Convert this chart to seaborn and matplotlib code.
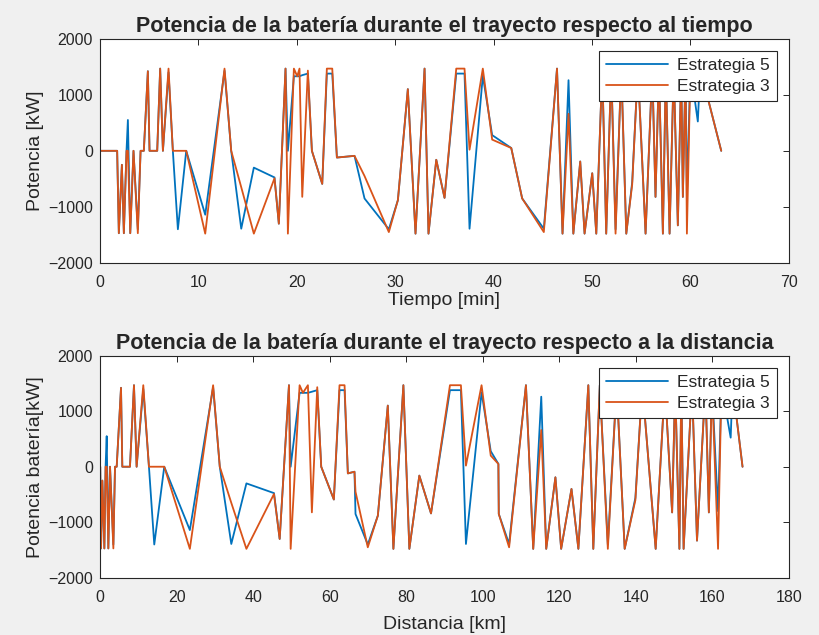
import numpy as np
import pandas as pd
import seaborn as sns
import matplotlib.pyplot as plt

# tiempo [min] y distancia [km] de cada muestra del trayecto
tiempo = [0, 1.74, 1.91, 2.22, 2.42, 2.69, 2.83, 3.07, 3.40, 3.84,
          4.12, 4.45, 4.86, 5.03, 5.81, 6.11, 6.39, 6.96, 7.40, 7.91,
          8.76, 10.69, 12.65, 13.33, 14.35, 15.63, 17.73, 18.17, 18.85, 19.09,
          19.70, 20.04, 20.27, 20.55, 21.12, 21.53, 22.58, 23.05, 23.6, 24.07,
          25.86, 26.88, 29.35, 30.27, 31.28, 32.06, 32.98, 33.38, 34.17, 35.01,
          36.2, 37.04, 37.55, 38.9, 39.85, 41.79, 42.9, 45.1, 46.44, 47.0,
          47.61, 48.1, 48.8, 49.24, 50.02, 50.43, 51.04, 51.44, 51.95, 52.39,
          52.97, 53.48, 54.08, 54.66, 55.44, 56.12, 56.45, 56.8, 57.2, 57.5,
          57.88, 58.3, 58.72, 59.06, 59.23, 59.5, 59.64, 60.0, 60.75, 61.0, 63.13]
distancia = [0, 0.05, 0.26, 0.61, 1.13, 1.45, 1.74, 2.17, 2.61, 3.48,
             3.91, 4.35, 5.48, 5.82, 7.82, 8.87, 9.56, 11.3, 12.78, 14.17,
             16.78, 23.47, 29.55, 31.29, 34.3, 38.25, 45.46, 46.94, 49.37, 49.81,
             52.15, 53.02, 54.32, 55.36, 56.76, 57.8, 61.1, 62.58, 63.9, 64.76,
             66.49, 66.76, 69.97, 72.6, 75.2, 76.66, 79.27, 80.83, 83.44, 86.49,
             91.44, 94.3, 95.62, 99.7, 102.1, 104.1, 104.2, 106.9, 111.3, 113.2,
             115.3, 116.6, 119.0, 120.5, 123.2, 125.0, 127.6, 128.9, 130.6, 132.7,
             135.0, 137.1, 139.9, 141.7, 145.2, 147.6, 149.5, 150.3, 151.4, 151.9,
             152.5, 154.7, 156.0, 158.2, 159.1, 159.9, 161.5, 162.4, 164.8, 165.3, 167.9]

# potencia de la bateria [kW]
p_estr5 = [0, 0, -1470, -250, -1470, 0, 550, -1470, 0, -1400,
           0, 0, 1420, 0, 0, 1467, 0, 1400, 0, -1400,
           0, -1140, 1430, 0, -1390, -300, -475, -1300, 1467, 0,
           1330, 1330, 1330, 1350, 1378, 0, -590, 1378, 1378, -120,
           -90, -851, -1400, -880, 1100, -1478, 1467, -1478, -160, -840,
           1378, 1378, -1390, 1340, 280, 50, -850, -1390, 1467, -1478,
           1260, -1478, -190, -1478, -400, -1478, 1467, -1478, 1467, -1400,
           1467, -1478, -560, 1467, -1478, 1467, -822, 1467, -1478, 1467,
           -1478, 1467, -1330, 1467, -822, 1467, -800, 1467, 523, 1467, 0]
p_estr3 = [0, 0, -1470, -250, -1470, 0, 0, -1470, 0, -1470,
           0, 0, 1420, 0, 0, 1467, 0, 1467, 0, 0,
           0, -1478, 1467, 0, -650, -1478, -490, -1300, 1467, -1478,
           1467, 1330, 1467, -821, 1431, 0, -590, 1467, 1467, -120,
           -90, -450, -1450, -880, 1100, -1478, 1467, -1478, -160, -840,
           1467, 1467, 20, 1467, 200, 50, -850, -1450, 1467, -1478,
           660, -1478, -190, -1478, -400, -1478, 1467, -1478, 1467, -1478,
           1467, -1478, -600, 1467, -1478, 1467, -822, 1467, -1478, 1467,
           -1478, 1467, -1330, 1467, -822, 1467, -1478, 1467, 1467, 1467, 0]

df = pd.concat([
    pd.DataFrame({"t": tiempo, "d": distancia, "p": p_estr5, "serie": "Estrategia 5"}),
    pd.DataFrame({"t": tiempo, "d": distancia, "p": p_estr3, "serie": "Estrategia 3"}),
])

sns.set_style("white")
plt.rcParams["font.family"] = ["Liberation Sans", "DejaVu Sans"]
colores = {"Estrategia 5": "#0072BD", "Estrategia 3": "#D95319"}

fig = plt.figure(figsize=(8.2, 6.35), dpi=100, facecolor="#f0f0f0")
ax1 = fig.add_axes([0.122, 0.586, 0.840, 0.353])
ax2 = fig.add_axes([0.122, 0.090, 0.840, 0.350])


def dibujar(ax, x, xmax, paso, titulo, xlabel, ylabel, xlabelpad):
    sns.lineplot(data=df, x=x, y="p", hue="serie", palette=colores, sort=False,
                 estimator=None, linewidth=1.3, ax=ax)
    ax.set_xlim(0, xmax)
    ax.set_ylim(-2000, 2000)
    ax.set_xticks(np.arange(0, xmax + 1, paso))
    ax.set_yticks([-2000, -1000, 0, 1000, 2000])
    ax.tick_params(direction="in", top=True, right=True, length=4, width=0.7,
                   labelsize=11.5, color="#262626", labelcolor="#262626")
    ax.tick_params(axis="x", pad=9)
    ax.tick_params(axis="y", pad=5)
    for s in ax.spines.values():
        s.set_color("#262626")
        s.set_linewidth(0.8)
    ax.set_title(titulo, fontsize=15.5, fontweight="bold", pad=5)
    ax.set_xlabel(xlabel, fontsize=14, color="#262626", labelpad=xlabelpad)
    ax.set_ylabel(ylabel, fontsize=14, color="#262626", labelpad=3)
    leg = ax.legend(loc="upper right", fontsize=12.5, handlelength=3.6,
                    fancybox=False, framealpha=1, borderaxespad=0.7,
                    labelspacing=0.35, borderpad=0.4, handletextpad=0.5)
    leg.get_frame().set_edgecolor("#262626")
    leg.get_frame().set_linewidth(0.8)


dibujar(ax1, "t", 70, 10, "Potencia de la batería durante el trayecto respecto al tiempo",
        "Tiempo [min]", "Potencia [kW]", 1)
dibujar(ax2, "d", 180, 20, "Potencia de la batería durante el trayecto respecto a la distancia",
        "Distancia [km]", "Potencia batería[kW]", 8)

fig.savefig("out.png", dpi=100, facecolor=fig.get_facecolor())
